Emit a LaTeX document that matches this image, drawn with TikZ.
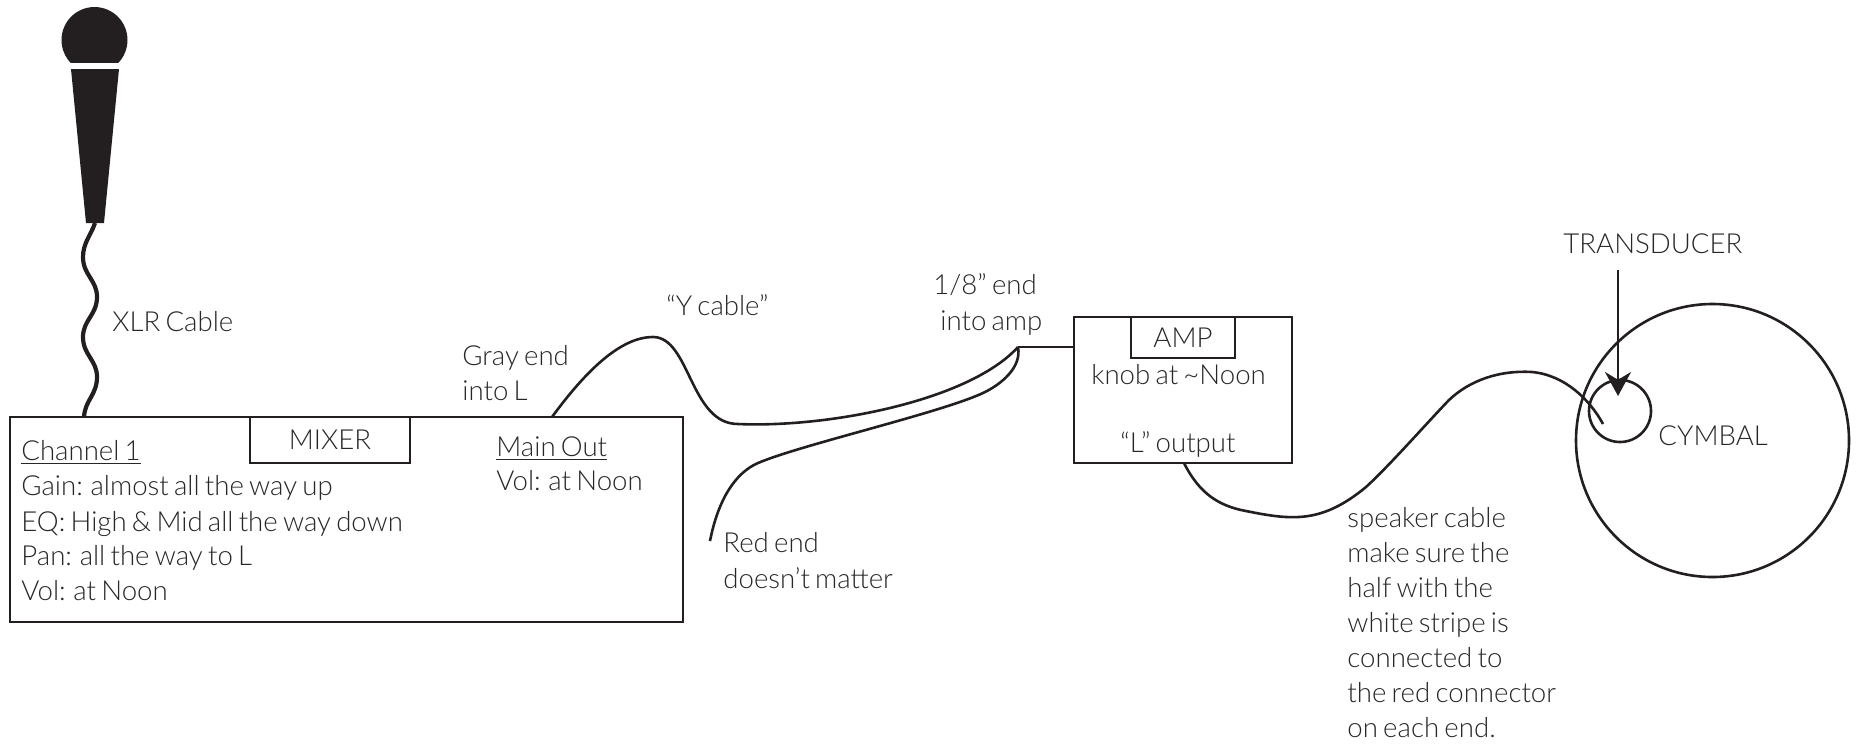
\documentclass[tikz,border=0pt]{standalone}
\usepackage{fontspec}
\setmainfont{Lato Light}[WordSpace=0.7]
\usetikzlibrary{positioning, calc, arrows.meta}
\definecolor{inkBlack}{RGB}{35,31,32}
\definecolor{labelGray}{RGB}{40,38,39}
\tikzset{
  partbox/.style={draw=inkBlack, line width=1.4pt, inner sep=0pt, fill=white},
  cable/.style={draw=inkBlack, line width=1.3pt},
  lbl/.style={anchor=base west, inner sep=0pt, text=labelGray, font=\fontsize{13.8}{15}\selectfont},
  tag/.style={inner sep=0pt, text=labelGray, font=\fontsize{13.8}{15}\selectfont}
}
\begin{document}
\begin{tikzpicture}[x=0.5pt, y=-0.5pt]
  \useasboundingbox (0,0) rectangle (1862,746);
  % microphone
  \begin{scope}
    \clip (50,0) rectangle (140,62);
    \fill[inkBlack] (94.5,40) circle (33);
  \end{scope}
  \fill[inkBlack] (71,69) -- (119,69) -- (104,223) -- (86,223) -- cycle;
  % boxes
  \node[partbox, minimum width=336.5pt, minimum height=102.5pt] (mixer) at (346.5,519.5) {};
  \node[partbox, minimum width=80pt, minimum height=23pt] (mixertag) at (330,440) {};
  \node[partbox, minimum width=109pt, minimum height=73pt] (amp) at (1183,390) {};
  \node[partbox, minimum width=52pt, minimum height=20.5pt] (amptag) at (1183,337.5) {};
  \node[draw=inkBlack, line width=1.3pt, circle, inner sep=0pt, minimum size=136.5pt] (cymbal) at (1712.5,440.5) {};
  \node[draw=inkBlack, line width=1.3pt, circle, inner sep=0pt, minimum size=31pt] (pickup) at (1620,411) {};
  % cable ends
  \coordinate (micbase) at (95,223);
  \coordinate (xlrin) at (84,417);
  \coordinate (grayend) at (552,417);
  \coordinate (yjoin) at (1018,347);
  \coordinate (redend) at (710,541);
  \coordinate (ampout) at (1184,463);
  \coordinate (spkend) at (1603,424);
  \coordinate (arrowtop) at (1618,270);
  \coordinate (arrowtip) at (1618,396);
  % cables
  \draw[inkBlack, line width=2.1pt] (micbase) .. controls (91,235) and (83,243) .. (83,257)
    .. controls (83,275) and (97,280) .. (97,297)
    .. controls (97,315) and (83,320) .. (83,337)
    .. controls (83,355) and (97,360) .. (97,377)
    .. controls (97,395) and (85,400) .. (xlrin);
  \draw[cable] (grayend) .. controls (585,372) and (620,337) .. (653,337)
    .. controls (690,337) and (690,424) .. (738,424)
    .. controls (830,428) and (970,400) .. (yjoin);
  \draw[cable] (yjoin) .. controls (1022,368) and (1000,385) .. (983,393)
    .. controls (940,413) and (800,445) .. (758,463)
    .. controls (735,473) and (718,500) .. (redend);
  \draw[cable] (yjoin) -- (yjoin -| amp.west);
  \draw[cable] (ampout) .. controls (1200,495) and (1220,505) .. (1241,510)
    .. controls (1290,520) and (1320,525) .. (1366,487)
    .. controls (1390,465) and (1425,425) .. (1449,400)
    .. controls (1470,380) and (1500,370) .. (1532,372)
    .. controls (1565,375) and (1590,400) .. (spkend);
  \draw[cable, -{Stealth[length=12pt, width=13pt]}] (arrowtop) -- (arrowtip);
  % labels
  \node[tag] (mixerlbl) at (mixertag) {MIXER};
  \node[tag] (amplbl) at (amptag) {AMP};
  \node[lbl] (xlr) at (112,331) {XLR Cable};
  \node[lbl] (chan) at (21,460) {\underline{Channel 1}};
  \foreach \y/\txt in {495/Gain: almost all the way up, 531/EQ: High \& Mid all the way down, 565/Pan: all the way to L, 600/Vol: at Noon}{
    \node[lbl] (chan\y) at (21,\y) {\txt};
  }
  \node[lbl] (mainout) at (496,456) {\underline{Main Out}};
  \node[lbl] (mainvol) at (496,490) {Vol: at Noon};
  \node[lbl] (gray1) at (462,365) {Gray end};
  \node[lbl] (gray2) at (462,400) {into L};
  \node[lbl] (ycable) at (666,315) {“Y cable”};
  \node[lbl] (eighth1) at (933,294) {1/8” end};
  \node[lbl] (eighth2) at (940,330) {into amp};
  \node[lbl] (red1) at (723,552) {Red end};
  \node[lbl] (red2) at (723,588) {doesn’t matter};
  \node[lbl] (knob) at (1091,384) {knob at \textasciitilde Noon};
  \node[lbl] (lout) at (1120,452) {“L” output};
  \node[lbl] (trans) at (1563,253) {TRANSDUCER};
  \node[lbl] (cymlbl) at (1658,445) {CYMBAL};
  \foreach \y/\txt in {527/speaker cable, 562/make sure the, 597/half with the, 632/white stripe is, 667/connected to, 702/the red connector, 737/on each end.}{
    \node[lbl] (spk\y) at (1347,\y) {\txt};
  }
\end{tikzpicture}
\end{document}
